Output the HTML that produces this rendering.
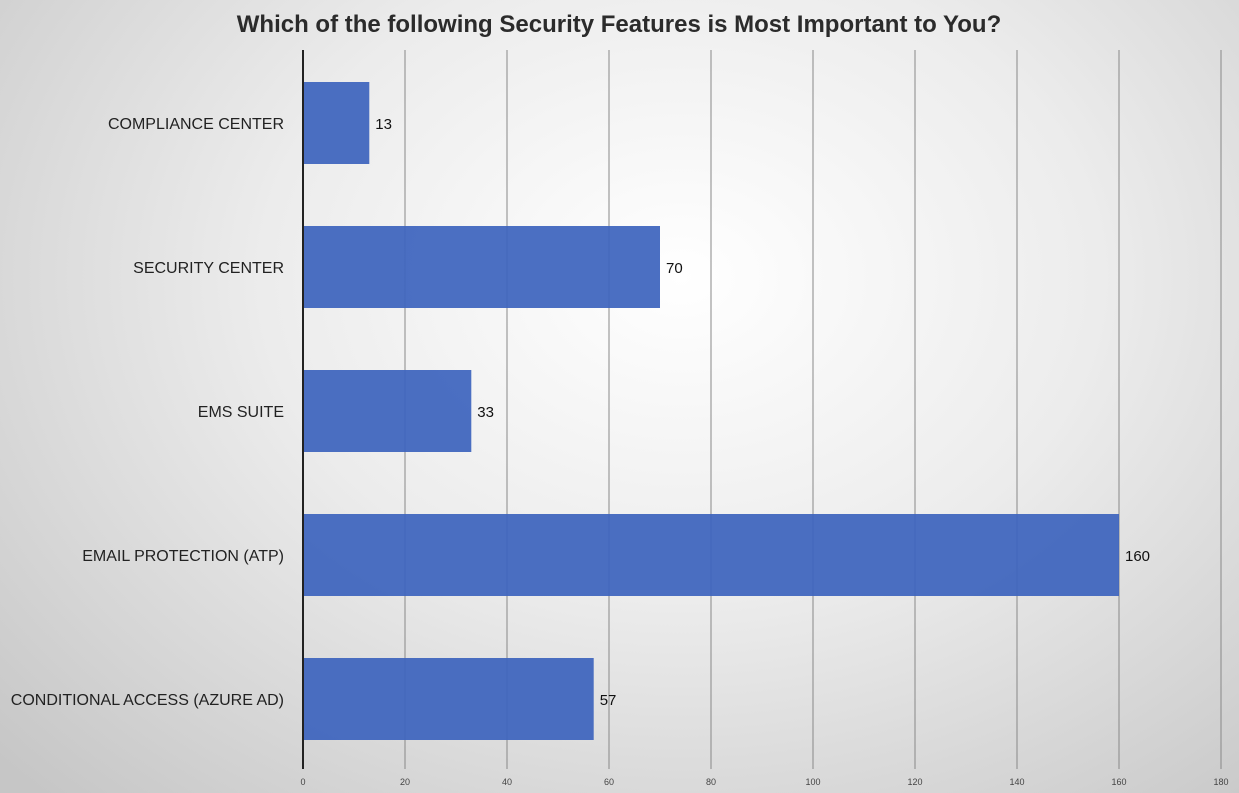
<!DOCTYPE html>
<html><head><meta charset="utf-8"><style>
body{margin:0;width:1239px;height:793px;overflow:hidden;background:radial-gradient(ellipse 75% 90% at 55% 35%,#ffffff 0%,#ececec 45%,#c6c6c6 100%);font-family:"Liberation Sans",sans-serif;}
svg{position:absolute;left:0;top:0}
</style></head><body>
<svg width="1239" height="793">
<text x="619" y="32" text-anchor="middle" font-size="24" font-weight="bold" fill="#2b2b2b">Which of the following Security Features is Most Important to You?</text>
<g id="grid"></g><g id="bars"></g><g id="labels"></g>
</svg>
<script>
const categories=["COMPLIANCE CENTER","SECURITY CENTER","EMS SUITE","EMAIL PROTECTION (ATP)","CONDITIONAL ACCESS (AZURE AD)"];
const values=[13,70,33,160,57];
const ticks=[0,20,40,60,80,100,120,140,160,180];
const x0=303,pxPer=5.1,topY=50,bottomY=769,band=144,firstY=82,barH=82;
const xs=v=>x0+v*pxPer;
const NS="http://www.w3.org/2000/svg";
function mk(t,a){const e=document.createElementNS(NS,t);for(const k in a)e.setAttribute(k,a[k]);return e;}
const g=document.getElementById('grid'),b=document.getElementById('bars'),l=document.getElementById('labels');
ticks.forEach(t=>{
 if(t>0){const ln=mk('line',{x1:xs(t),x2:xs(t),y1:topY,y2:bottomY,stroke:'#888','stroke-width':1});
 
 g.appendChild(ln);}
 const tx=mk('text',{x:xs(t),y:785,'text-anchor':'middle','font-size':9,fill:'#444'});tx.textContent=t;
 
 g.appendChild(tx);
});
values.forEach((v,i)=>{
 const y=firstY+i*band;
 const r=mk('rect',{x:x0,y:y,width:v*pxPer,height:barH,fill:'#3d64bd','fill-opacity':0.93});
 
 b.appendChild(r);
 const vt=mk('text',{x:xs(v)+6,y:y+barH/2+6,'font-size':15,fill:'#111'});vt.textContent=v;
 
 l.appendChild(vt);
 const ct=mk('text',{x:284,y:y+barH/2+6,'text-anchor':'end','font-size':16,fill:'#222'});ct.textContent=categories[i];
 
 l.appendChild(ct);
});
const ax=mk('line',{x1:x0,x2:x0,y1:topY,y2:bottomY,stroke:'#222','stroke-width':2});


l.appendChild(ax);
</script>
</body></html>
